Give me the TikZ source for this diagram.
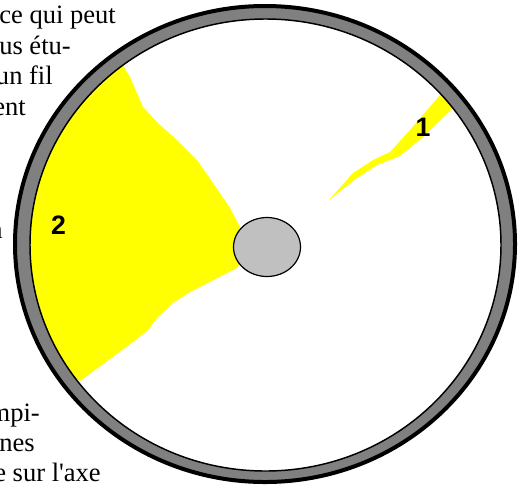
\documentclass[tikz,border=0pt]{standalone}
\usepackage{fontspec}
\newfontfamily\bodyfont{Liberation Serif}
\newfontfamily\labelfont{Liberation Sans}
\definecolor{ringgray}{RGB}{128,128,128}
\definecolor{hubgray}{RGB}{192,192,192}
\definecolor{wedge}{RGB}{255,255,0}
\tikzset{
  body/.style={font=\bodyfont\fontsize{19.9pt}{23pt}\selectfont, anchor=base east, inner sep=0pt, text=black},
  num/.style={font=\labelfont\bfseries\fontsize{20pt}{22pt}\selectfont, inner sep=0pt, text=black},
}
\begin{document}
\begin{tikzpicture}[x=0.75pt,y=-0.75pt]
\useasboundingbox (0,0) rectangle (523,486);
\clip (0,0) rectangle (523,486);
\node[body] (t1) at (116,23) {ce qui peut};
\node[body] (t2) at (71,54) {us étu-};
\node[body] (t3) at (53,84) {un fil};
\node[body] (t4) at (26,115) {ent};
\node[body] (t5) at (3,238) {n};
\node[body] (t6) at (40,421) {mpi-};
\node[body] (t7) at (35,451) {nes};
\node[body] (t8) at (101,481) {e sur l'axe};
% yellow zones, kept inside the rim
\begin{scope}
\clip (265,244) ellipse [x radius=245, y radius=233];
\fill[wedge] (122,64) -- (130,77) -- (143,107) -- (160,125) -- (177,140) -- (197,160) -- (213,183)
  -- (230,208) -- (240,227) -- (250,250) -- (237,268) -- (190,292) -- (173,303) -- (158,317)
  -- (148,330) -- (133,342) -- (80,381)
  -- (20,340) -- (10,230) -- (40,120) -- cycle;
\fill[wedge] (329,200) -- (353,173) -- (373,160) -- (390,152) -- (410,130) -- (440,95) -- (453,108)
  -- (423,137) -- (400,156) -- (377,165) -- (357,178) -- cycle;
\end{scope}
% rim
\fill[ringgray, even odd rule] (265,244) ellipse [x radius=250, y radius=238]
  (265.5,245) ellipse [x radius=235.5, y radius=226];
\draw[black, line width=3pt] (265,244) ellipse [x radius=250, y radius=238];
\draw[black, line width=1.1pt] (265.5,245) ellipse [x radius=235.5, y radius=226];
% hub
\fill[hubgray, draw=black, line width=0.9pt] (267,247) ellipse [x radius=33.5, y radius=29.5];
\node[num] (n1) at (423,127) {1};
\node[num] (n2) at (58.5,225.5) {2};
\end{tikzpicture}
\end{document}
